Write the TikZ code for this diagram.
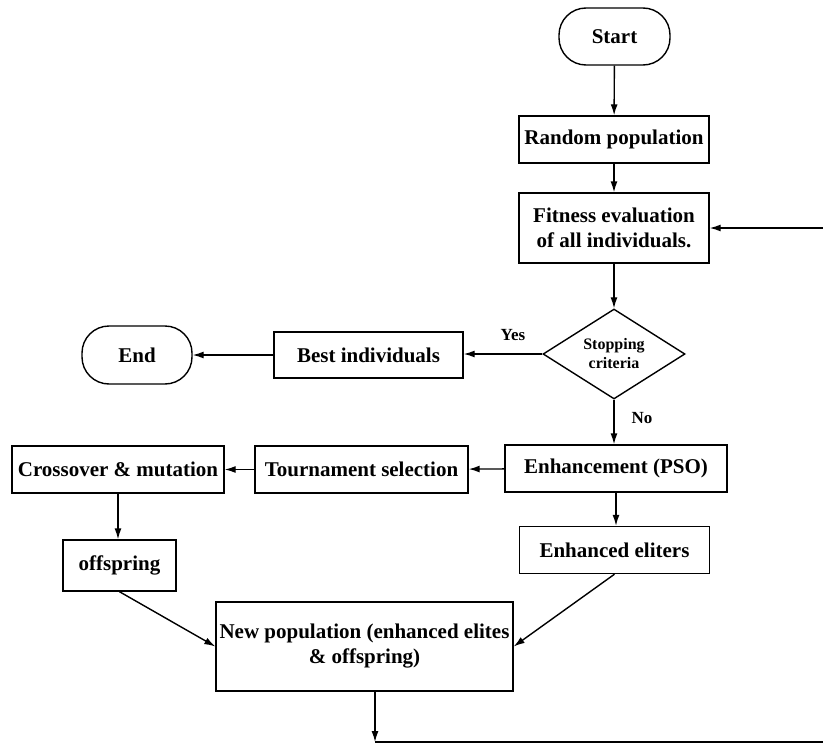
\documentclass[tikz,border=0pt]{standalone}
\usepackage{fontspec}
\setmainfont{Liberation Serif}
\usetikzlibrary{shapes.geometric,arrows.meta}
\begin{document}
\begin{tikzpicture}[x=1pt,y=-1pt,
  box/.style={draw,line width=1.4pt,rectangle,inner sep=0pt,align=center,
    font=\fontsize{21}{25}\selectfont\bfseries},
  term/.style={box,rounded corners=27pt},
  dec/.style={draw,line width=1.4pt,diamond,aspect=1.58,inner sep=0pt,align=center,
    minimum width=142pt,minimum height=90pt,font=\fontsize{16}{19}\selectfont\bfseries},
  lbl/.style={font=\fontsize{17}{20}\selectfont\bfseries},
  arr/.style={line width=1.4pt,-{Latex[length=11pt,width=7pt]}},
  ln/.style={line width=1.4pt}]
\useasboundingbox (0,0) rectangle (823,744);
\node[term,minimum width=111pt,minimum height=57pt] (start) at (614.5,36.5) {Start};
\node[box,minimum width=190pt,minimum height=47pt] (rand) at (614,139.5) {Random population};
\node[box,minimum width=190pt,minimum height=70pt] (fit) at (614,228) {Fitness evaluation\\of all individuals.};
\node[dec] (stop) at (614,354) {Stopping\\criteria};
\node[box,minimum width=189pt,minimum height=46pt] (best) at (368.5,355) {Best individuals};
\node[term,minimum width=110pt,minimum height=58pt] (end) at (137,355) {End};
\node[box,minimum width=222pt,minimum height=47pt] (enh) at (616,468.5) {Enhancement (PSO)};
\node[box,minimum width=213pt,minimum height=47pt] (tour) at (361.5,469.5) {Tournament selection};
\node[box,minimum width=212pt,minimum height=47pt] (cross) at (118,469.5) {Crossover \& mutation};
\node[box,minimum width=190pt,minimum height=47pt] (elit) at (614.5,550) {Enhanced eliters};
\node[box,minimum width=113pt,minimum height=51pt] (off) at (119.5,565.5) {offspring};
\node[box,minimum width=297pt,minimum height=89pt] (newp) at (364.5,646.5) {New population (enhanced elites\\\& offspring)};
\node[lbl] (yes) at (513,335) {Yes};
\node[lbl] (no) at (642,418) {No};
\coordinate (npb) at (375,691);
\coordinate (bl) at (375,742);
\coordinate (br) at (824,742);
\coordinate (tr) at (824,228);
\draw[arr] (start) -- (rand);
\draw[arr] (rand) -- (fit);
\draw[arr] (fit) -- (stop);
\draw[arr] (stop.west) -- (stop.west -| best.east);
\draw[arr] (best) -- (end);
\draw[arr] (stop.south) -- (stop.south |- enh.north);
\draw[arr] (enh) -- (tour);
\draw[arr] (tour) -- (cross);
\draw[arr] (cross.south) -- (cross.south |- off.north);
\draw[arr] (enh.south) -- (enh.south |- elit.north);
\draw[arr] (off.south) -- (newp.west);
\draw[arr] (elit.south) -- (newp.east);
\draw[arr] (npb) -- (bl);
\draw[ln] (bl) -- (br) -- (tr);
\draw[arr] (tr) -- (fit.east);
\end{tikzpicture}
\end{document}
